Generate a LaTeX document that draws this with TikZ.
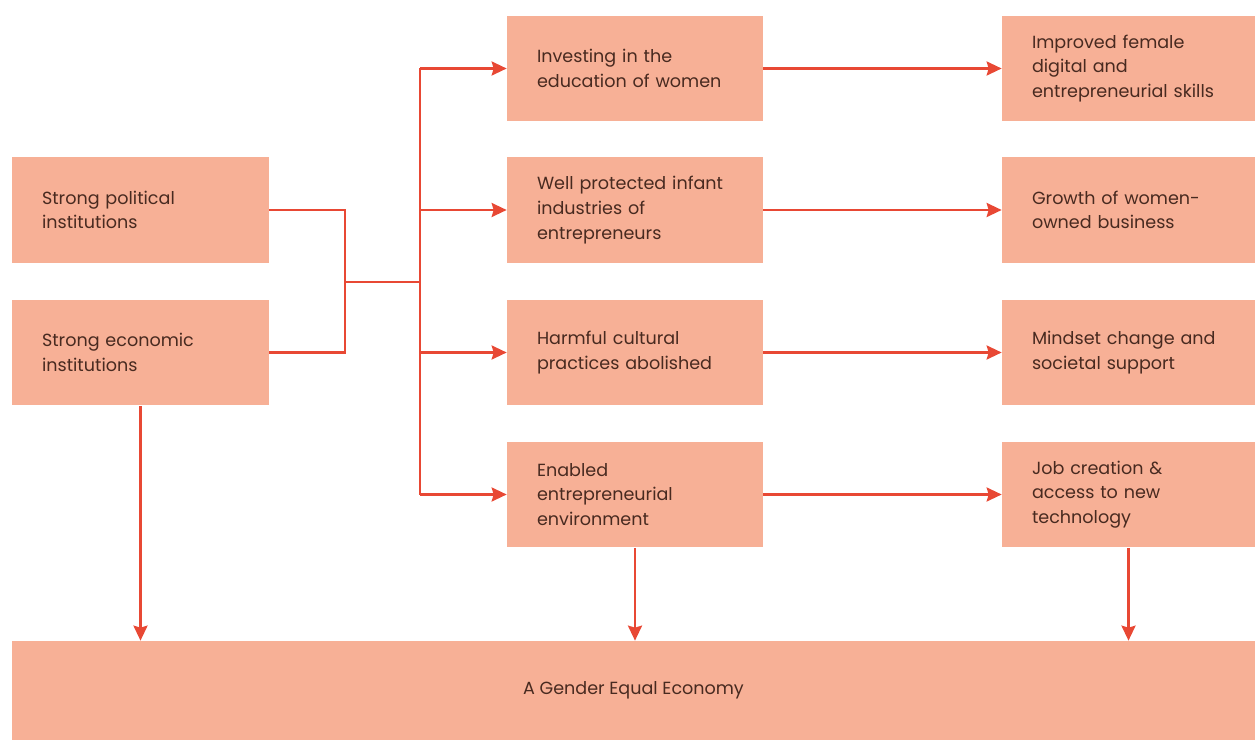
\documentclass[tikz,border=0pt]{standalone}
\usepackage{fontspec}
\setmainfont{Poppins}
\usetikzlibrary{arrows.meta}
\definecolor{boxfill}{RGB}{247,176,150}
\definecolor{arrowred}{RGB}{232,72,52}
\definecolor{boxtext}{RGB}{72,42,32}
\begin{document}
\begin{tikzpicture}[x=0.02cm, y=-0.02cm,
    box/.style={fill=boxfill, draw=none, text=boxtext, align=left, anchor=center,
      inner xsep=0.6cm, inner ysep=0pt, minimum height=2.12cm,
      font=\fontsize{10}{14}\selectfont},
    leftbox/.style={box, text width=3.94cm, minimum width=5.14cm},
    midbox/.style={box, text width=3.92cm, minimum width=5.12cm},
    rightbox/.style={box, text width=3.86cm, minimum width=5.06cm},
    link/.style={draw=arrowred, line width=1.4pt},
    arrow/.style={link, -{Stealth[length=0.3cm, width=0.28cm, inset=0.04cm]}}]
    %%%%% START %%%%%
    
    \useasboundingbox (0, 0) rectangle (1255, 740);
    
    % left column
    \node[leftbox] (pol) at (140.5, 210) {Strong political\\institutions};
    \node[leftbox] (eco) at (140.5, 352.5) {Strong economic\\institutions};
    
    % middle column
    \node[midbox] (edu) at (635, 68.5) {Investing in the\\education of women};
    \node[midbox] (ind) at (635, 210) {Well protected infant\\industries of\\entrepreneurs};
    \node[midbox] (cul) at (635, 352.5) {Harmful cultural\\practices abolished};
    \node[midbox] (env) at (635, 494.5) {Enabled\\entrepreneurial\\environment};
    
    % right column
    \node[rightbox] (skl) at (1128.5, 68.5) {Improved female\\digital and\\entrepreneurial skills};
    \node[rightbox] (biz) at (1128.5, 210) {Growth of women-\\owned business};
    \node[rightbox] (mnd) at (1128.5, 352.5) {Mindset change and\\societal support};
    \node[rightbox] (job) at (1128.5, 494.5) {Job creation \&\\access to new\\technology};
    
    % bottom
    \node[box, align=center, inner xsep=0pt, minimum width=24.86cm, minimum height=1.98cm] (goal) at (633.5, 690.5) {A Gender Equal Economy};
    
    % joining lines
    \coordinate (join) at (345, 282);
    \coordinate (trunk) at (420, 282);
    \draw[link] (pol.east) -| (join);
    \draw[link] (eco.east) -| (join);
    \draw[link] (join) -- (trunk);
    \draw[link] (trunk |- edu.west) -- (trunk |- env.west);
    
    \draw[arrow] (trunk |- edu.west) -- (edu.west);
    \draw[arrow] (trunk |- ind.west) -- (ind.west);
    \draw[arrow] (trunk |- cul.west) -- (cul.west);
    \draw[arrow] (trunk |- env.west) -- (env.west);
    
    \draw[arrow] (edu.east) -- (skl.west);
    \draw[arrow] (ind.east) -- (biz.west);
    \draw[arrow] (cul.east) -- (mnd.west);
    \draw[arrow] (env.east) -- (job.west);
    
    \draw[arrow] (eco.south) -- (eco.south |- goal.north);
    \draw[arrow] (env.south) -- (env.south |- goal.north);
    \draw[arrow] (job.south) -- (job.south |- goal.north);
    
    %%%%% END %%%%%
\end{tikzpicture}
\end{document}
